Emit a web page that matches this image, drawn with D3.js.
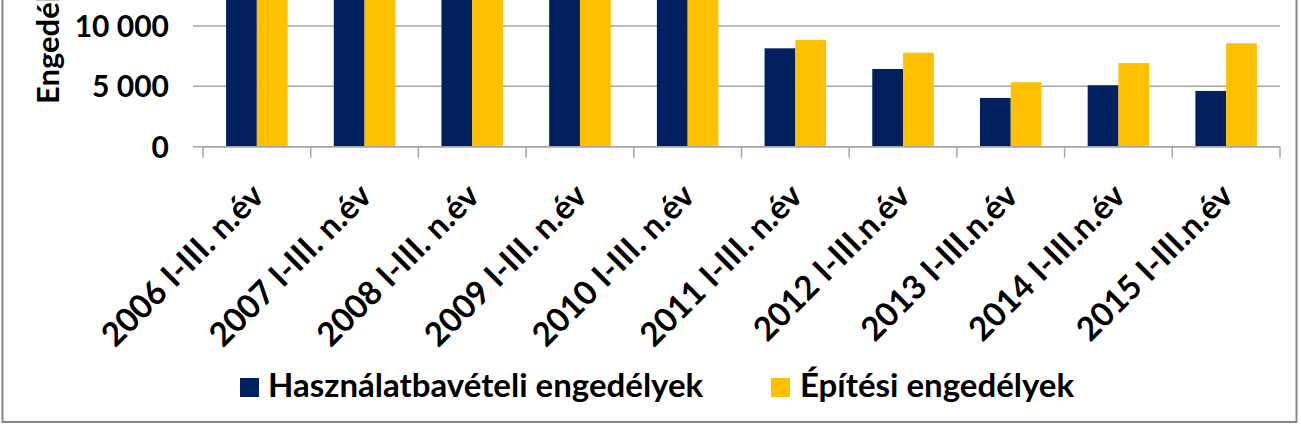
<!DOCTYPE html>
<html><head><meta charset="utf-8">
<script src="https://cdn.jsdelivr.net/npm/d3@7"></script>
<style>html,body{margin:0;padding:0;background:#fff;overflow:hidden}svg{display:block}text{font-family:Lato,"Open Sans",sans-serif;font-weight:bold;fill:#000}</style>
</head><body>
<svg id="c" width="1301" height="425"></svg>
<script>
const categories = ["2006 I-III. n.év","2007 I-III. n.év","2008 I-III. n.év","2009 I-III. n.év","2010 I-III. n.év","2011 I-III. n.év","2012 I-III.n.év","2013 I-III.n.év","2014 I-III.n.év","2015 I-III.n.év"];
const seriesNames = ["Használatbavételi engedélyek","Építési engedélyek"];
const hasznalatbaveteli = [21500, 23000, 22000, 20000, 14500, 8150, 6440, 4040, 5090, 4620];
const epitesi = [30000, 32000, 33000, 21000, 15000, 8840, 7790, 5340, 6930, 8570];
const yTicks = [0, 5000, 10000, 15000, 20000, 25000, 30000, 35000, 40000];
const yTitle = "Engedélyek száma";
const colors = ["#002060", "#FFC000"];

const svg = d3.select("#c");
const x0 = 203, x1 = 1280, yZero = 146.7, pxPer10k = 120.7;
const x = d3.scaleBand().domain(categories).range([x0, x1]).paddingInner(0).paddingOuter(0);
const xs = d3.scaleBand().domain(seriesNames).range([0, x.bandwidth()]).paddingInner(0).paddingOuter(0.75);
const y = d3.scaleLinear().domain([0, 40000]).range([yZero, yZero - 4 * pxPer10k]);
const fmt = d3.formatLocale({decimal: ",", thousands: " ", grouping: [3], currency: ["", ""]}).format(",d");

// border
svg.append("rect").attr("x", 2.5).attr("y", -20).attr("width", 1294).attr("height", 442)
  .attr("fill", "none").attr("stroke", "#878787").attr("stroke-width", 2);

// gridlines
svg.append("g").selectAll("line").data(yTicks).join("line")
  .attr("x1", x0 - 10).attr("x2", x1).attr("y1", d => y(d)).attr("y2", d => y(d))
  .attr("stroke", "#a6a6a6").attr("stroke-width", 1.5);

// y tick labels
svg.append("g").selectAll("text").data(yTicks).join("text")
  .attr("x", 169).attr("y", d => y(d) + 11).attr("text-anchor", "end")
  .style("font-size", "30px").text(d => fmt(d));

// y title
svg.append("text").attr("transform", "translate(59,104) rotate(-90)")
  .attr("text-anchor", "start").style("font-size", "31px").text(yTitle);

// bars
const data = categories.map((c, i) => ({c, vals: [hasznalatbaveteli[i], epitesi[i]]}));
const g = svg.append("g").selectAll("g").data(data).join("g")
  .attr("transform", d => `translate(${x(d.c)},0)`);
g.selectAll("rect").data(d => d.vals.map((v, j) => ({v, s: seriesNames[j], j}))).join("rect")
  .attr("x", d => xs(d.s)).attr("width", xs.bandwidth())
  .attr("y", d => y(d.v)).attr("height", d => yZero - y(d.v))
  .attr("fill", d => colors[d.j]);

// x axis
svg.append("line").attr("x1", x0).attr("x2", x1).attr("y1", yZero).attr("y2", yZero)
  .attr("stroke", "#a6a6a6").attr("stroke-width", 1.5);
const bounds = categories.map(c => x(c)).concat([x1]);
svg.append("g").selectAll("line").data(bounds).join("line")
  .attr("x1", d => d).attr("x2", d => d).attr("y1", yZero).attr("y2", yZero + 11)
  .attr("stroke", "#a6a6a6").attr("stroke-width", 1.5);

// x labels
svg.append("g").selectAll("text").data(categories).join("text")
  .attr("transform", d => `translate(${x(d) + x.bandwidth() / 2 + 9},198) rotate(-45)`)
  .attr("text-anchor", "end").style("font-size", "33px").text(d => d);

// legend
const leg = [{x: 240, tx: 268}, {x: 771, tx: 800}];
seriesNames.forEach((s, i) => {
  svg.append("rect").attr("x", leg[i].x).attr("y", 378).attr("width", 19).attr("height", 19).attr("fill", colors[i]);
  svg.append("text").attr("x", leg[i].tx).attr("y", 397).style("font-size", "33px").text(s);
});
</script>
</body></html>
